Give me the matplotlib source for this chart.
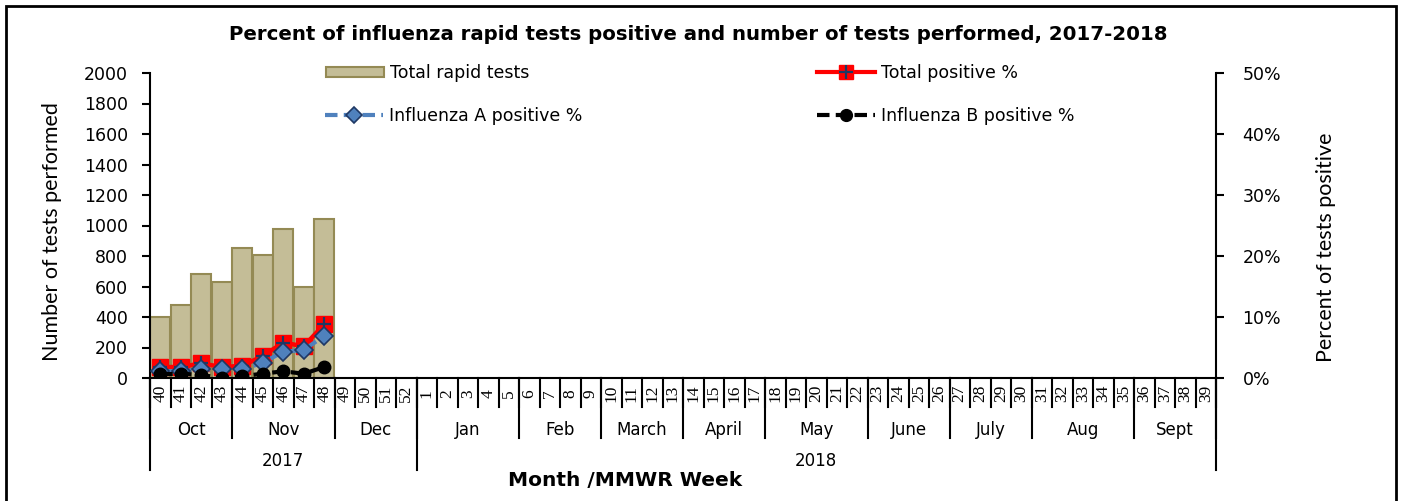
import numpy as np
import matplotlib
matplotlib.use("Agg")
import matplotlib.pyplot as plt
from matplotlib.lines import Line2D
from matplotlib.patches import Patch, Rectangle
from matplotlib.ticker import PercentFormatter

# MMWR weeks of the 2017-2018 season
weeks = list(range(40, 53)) + list(range(1, 40))
months = ["Oct", "Nov", "Dec", "Jan", "Feb", "March", "April", "May",
          "June", "July", "Aug", "Sept"]
month_len = [4, 5, 4, 5, 4, 4, 4, 5, 4, 4, 5, 4]
years = ["2017", "2018"]
year_len = [13, 39]

# reported weeks so far (40-48)
tests = [399, 477, 683, 631, 851, 805, 980, 595, 1041]
total_pos = [1.8, 1.8, 2.4, 1.8, 2.0, 3.6, 5.8, 5.2, 8.8]
flu_a = [1.1, 1.1, 1.4, 1.4, 1.4, 2.5, 4.3, 4.6, 6.9]
flu_b = [0.6, 0.7, 0.5, 0.0, 0.3, 0.7, 1.1, 0.7, 1.8]

W, H = 1403, 501
fig = plt.figure(figsize=(W / 100, H / 100), dpi=100)

def fx(px):
    return px / W

def fy(py):
    return 1 - py / H

ax = fig.add_axes([fx(150), fy(378), fx(1216) - fx(150), fy(73) - fy(378)])
ax2 = ax.twinx()

n = len(weeks)
xs = np.arange(len(tests))
ax.bar(xs, tests, width=0.97, color="#C4BD97", edgecolor="#948A54", linewidth=1.5, zorder=2)
ax.set_xlim(-0.5, n - 0.5)
ax.set_ylim(0, 2000)
ax.set_yticks(range(0, 2001, 200))
ax.set_xticks([])

ax2.set_ylim(0, 50)
ax2.set_yticks(range(0, 51, 10))
ax2.yaxis.set_major_formatter(PercentFormatter(decimals=0))

ax2.plot(xs, total_pos, color="#FF0000", lw=3.2, marker="s", ms=11,
         mfc="#FF0000", mec="#FF0000", zorder=3)
ax2.plot(xs, total_pos, ls="none", marker="+", ms=10, mew=1.6, color="#1F3864", zorder=3)
ax2.plot(xs, flu_a, color="#4F81BD", lw=3, ls=(0, (3, 1.5)), marker="D", ms=9,
         mfc="#4F81BD", mec="#1F3864", mew=1.2, zorder=4)
ax2.plot(xs, flu_b, color="black", lw=3, ls=(0, (3, 1.5)), marker="o", ms=9,
         mfc="black", mec="black", zorder=5)

for a in (ax, ax2):
    for s in ("top", "bottom"):
        a.spines[s].set_visible(False)
    a.spines["left"].set_linewidth(1.5)
    a.spines["right"].set_linewidth(1.5)
ax.spines["right"].set_visible(False)
ax2.spines["left"].set_visible(False)
ax.axhline(0, color="black", lw=1.5, clip_on=False, zorder=6)

ax.tick_params(axis="y", direction="out", length=6, width=1.5, pad=10, labelsize=12.5)
ax2.tick_params(axis="y", direction="out", length=6, width=1.5, pad=13, labelsize=12.5)

# multi-level category axis
tr = ax.get_xaxis_transform()
for i in range(n + 1):
    ax.plot([i - 0.5, i - 0.5], [0, -0.095], color="black", lw=1.5, transform=tr, clip_on=False)
for i, w in enumerate(weeks):
    ax.text(i, -0.05, str(w), rotation=90, ha="center", va="center", fontsize=12.5,
            family="Liberation Serif", transform=tr)
pos = 0
for m, ln in zip(months, month_len):
    ax.plot([pos - 0.5, pos - 0.5], [0, -0.197], color="black", lw=1.5, transform=tr, clip_on=False)
    ax.text(pos + (ln - 1) / 2, -0.17, m, ha="center", va="center", fontsize=12, transform=tr)
    pos += ln
ax.plot([pos - 0.5, pos - 0.5], [0, -0.197], color="black", lw=1.5, transform=tr, clip_on=False)
pos = 0
for yname, ln in zip(years, year_len):
    ax.plot([pos - 0.5, pos - 0.5], [0, -0.30], color="black", lw=1.5, transform=tr, clip_on=False)
    ax.text(pos + (ln - 1) / 2, -0.272, yname, ha="center", va="center", fontsize=12, transform=tr)
    pos += ln
ax.plot([pos - 0.5, pos - 0.5], [0, -0.30], color="black", lw=1.5, transform=tr, clip_on=False)

# legend entries
fs = 12.5
h_bar = Patch(facecolor="#C4BD97", edgecolor="#948A54", linewidth=1.5)
h_tot = (Line2D([], [], color="#FF0000", lw=3, marker="s", ms=10.5, mfc="#FF0000", mec="#FF0000"),
         Line2D([], [], ls="none", marker="+", ms=10, mew=1.6, color="#1F3864"))
h_a = Line2D([], [], color="#4F81BD", lw=3, ls=(0, (3, 1.5)), marker="D", ms=8.5,
             mfc="#4F81BD", mec="#1F3864", mew=1.2)
h_b = Line2D([], [], color="black", lw=3, ls=(0, (3, 1.5)), marker="o", ms=8.5, mfc="black")
entries = [(h_bar, "Total rapid tests", 326, 73),
           (h_a, "Influenza A positive %", 325, 116),
           (h_tot, "Total positive %", 817, 73),
           (h_b, "Influenza B positive %", 817, 116)]
for h, lab, px, py in entries:
    fig.legend([h], [lab], loc="center left", bbox_to_anchor=(fx(px), fy(py)),
               frameon=False, borderpad=0, borderaxespad=0, handlelength=58 / (fs * 1.389),
               handleheight=0.55, handletextpad=0.35, numpoints=1, fontsize=fs)

fig.text(fx(698), fy(34), "Percent of influenza rapid tests positive and number of tests performed, 2017-2018",
         ha="center", va="center", fontsize=14.2, fontweight="bold")
fig.text(fx(52), fy(232), "Number of tests performed", rotation=90, ha="center", va="center",
         fontsize=15.5, family=["Liberation Sans Narrow", "Lato", "DejaVu Sans"])
fig.text(fx(1326), fy(247), "Percent of tests positive", rotation=90, ha="center", va="center",
         fontsize=15.5, family=["Liberation Sans Narrow", "Lato", "DejaVu Sans"])
fig.text(fx(625), fy(481), "Month /MMWR Week", ha="center", va="center",
         fontsize=14.5, fontweight="bold")

fig.add_artist(Rectangle((fx(6), -0.05), fx(1396) - fx(6), fy(6) + 0.05, transform=fig.transFigure,
                         fill=False, edgecolor="black", lw=2))

fig.savefig("out.png", dpi=100)
